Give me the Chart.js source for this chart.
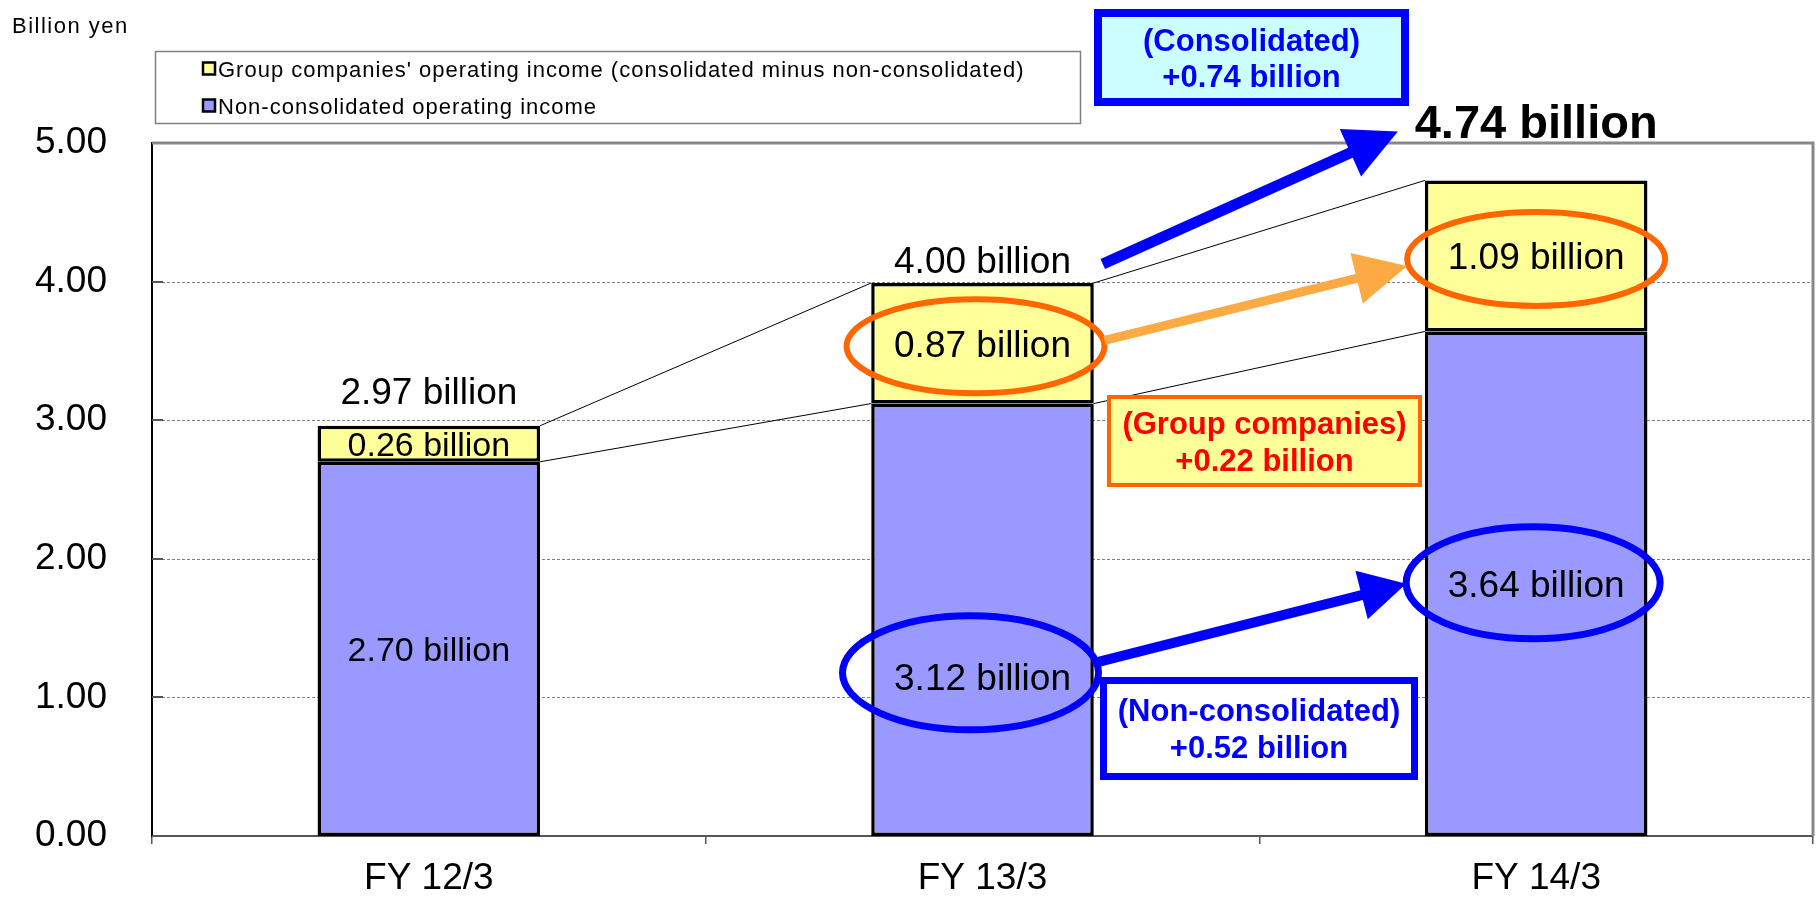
<!DOCTYPE html>
<html>
<head>
<meta charset="utf-8">
<title>Operating income</title>
<script src="https://cdn.jsdelivr.net/npm/chart.js@4.4.1/dist/chart.umd.min.js"></script>
<style>
  body { margin: 0; background: #fff; }
  canvas { display: block; }
</style>
</head>
<body>
<canvas id="chart" width="1820" height="906"></canvas>
<script>
// --- data ---
const years = ['FY 12/3', 'FY 13/3', 'FY 14/3'];
const nonConsolidated = [2.70, 3.12, 3.64];
const groupCompanies = [0.26, 0.87, 1.09];
const totals = [2.97, 4.00, 4.74];
const seriesNames = [
  'Non-consolidated operating income',
  "Group companies' operating income (consolidated minus non-consolidated)"
];
const yTicks = [0, 1, 2, 3, 4, 5];
const unitLabel = 'Billion yen';

const FONT = "'Liberation Sans', Arial, sans-serif";
const BLUE = '#9999ff';
const YELLOW = '#ffff99';

const fmt = v => v.toFixed(2) + ' billion';
const diff = (a, b) => '+' + (b - a).toFixed(2) + ' billion';

function text(ctx, str, x, base, size, o = {}) {
  ctx.font = (o.bold ? 'bold ' : '') + size + 'px ' + FONT;
  ctx.fillStyle = o.color || '#000';
  ctx.textAlign = o.align || 'center';
  ctx.textBaseline = 'alphabetic';
  ctx.letterSpacing = o.spacing || '0px';
  ctx.fillText(str, x, base);
  ctx.letterSpacing = '0px';
}

function line(ctx, x1, y1, x2, y2) {
  ctx.beginPath();
  ctx.moveTo(x1, y1);
  ctx.lineTo(x2, y2);
  ctx.stroke();
}

function arrow(ctx, x1, y1, x2, y2, shaft, headLen, headHalf, color) {
  const len = Math.hypot(x2 - x1, y2 - y1);
  ctx.save();
  ctx.translate(x1, y1);
  ctx.rotate(Math.atan2(y2 - y1, x2 - x1));
  ctx.fillStyle = color;
  ctx.beginPath();
  ctx.moveTo(0, -shaft / 2);
  ctx.lineTo(len - headLen, -shaft / 2);
  ctx.lineTo(len - headLen, -headHalf);
  ctx.lineTo(len, 0);
  ctx.lineTo(len - headLen, headHalf);
  ctx.lineTo(len - headLen, shaft / 2);
  ctx.lineTo(0, shaft / 2);
  ctx.closePath();
  ctx.fill();
  ctx.restore();
}

function box(ctx, b) {
  ctx.save();
  ctx.fillStyle = b.fill;
  ctx.fillRect(b.x, b.y, b.w, b.h);
  ctx.strokeStyle = b.stroke;
  ctx.lineWidth = b.lw;
  ctx.strokeRect(b.x, b.y, b.w, b.h);
  const cy = b.y + b.h / 2;
  b.lines.forEach((s, i) => {
    const c = cy + (i - (b.lines.length - 1) / 2) * b.lead;
    text(ctx, s, b.x + b.w / 2, c + 11, 31, { bold: true, color: b.color });
  });
  ctx.restore();
}

const decor = {
  id: 'decor',
  beforeDraw(chart) {
    const { ctx, width, height } = chart;
    ctx.save();
    ctx.fillStyle = '#fff';
    ctx.fillRect(0, 0, width, height);
    ctx.restore();
  },
  beforeDatasetsDraw(chart) {
    const { ctx, chartArea: a, scales: { y } } = chart;
    ctx.save();
    // dotted grid
    ctx.strokeStyle = '#808080';
    ctx.lineWidth = 1;
    ctx.setLineDash([3, 2]);
    yTicks.forEach(v => {
      if (v <= y.min || v >= y.max) return;
      const py = Math.round(y.getPixelForValue(v)) + 0.5;
      line(ctx, a.left, py, a.right, py);
    });
    ctx.setLineDash([]);
    // inside tick marks
    ctx.strokeStyle = '#555';
    ctx.lineWidth = 2;
    yTicks.forEach(v => {
      const py = Math.round(y.getPixelForValue(v));
      line(ctx, a.left, py, a.left + 11, py);
    });
    // plot frame top / right
    ctx.strokeStyle = '#888';
    ctx.lineWidth = 3;
    ctx.beginPath();
    ctx.moveTo(a.left, a.top);
    ctx.lineTo(a.right, a.top);
    ctx.lineTo(a.right, a.bottom);
    ctx.stroke();
    ctx.restore();
  },
  afterDatasetsDraw(chart) {
    const { ctx } = chart;
    const low = chart.getDatasetMeta(0).data;
    const high = chart.getDatasetMeta(1).data;
    const mid = el => (el.y + el.base) / 2;
    ctx.save();

    // series lines between bars
    ctx.strokeStyle = '#000';
    ctx.lineWidth = 1;
    for (let i = 0; i < low.length - 1; i++) {
      const r = low[i].x + low[i].width / 2;
      const l = low[i + 1].x - low[i + 1].width / 2;
      line(ctx, r, high[i].y, l, high[i + 1].y);
      line(ctx, r, low[i].y, l, low[i + 1].y);
    }

    // segment labels
    const segSize = [34, 37, 37];
    const lowShift = [0, 57, 0];
    const centers = [[], []];
    low.forEach((el, i) => {
      const c = mid(el) + lowShift[i];
      centers[0][i] = { x: el.x, y: c };
      text(ctx, fmt(nonConsolidated[i]), el.x, c + segSize[i] * 0.36, segSize[i]);
    });
    high.forEach((el, i) => {
      const c = mid(el);
      centers[1][i] = { x: el.x, y: c };
      text(ctx, fmt(groupCompanies[i]), el.x, c + segSize[i] * 0.36, segSize[i]);
    });

    // totals above bars
    const gap = [22, 10, 42];
    high.forEach((el, i) => {
      const last = i === high.length - 1;
      text(ctx, fmt(totals[i]), el.x, el.y - gap[i], last ? 47 : 37, { bold: last });
    });

    // rings
    const rings = [
      { s: 1, i: 1, color: '#ff6600', lw: 6, rx: 129, ry: 47, dx: -7, dy: 3 },
      { s: 1, i: 2, color: '#ff6600', lw: 6, rx: 129, ry: 47, dx: 0, dy: 3 },
      { s: 0, i: 1, color: '#0000ff', lw: 7, rx: 128, ry: 57, dx: -12, dy: -4 },
      { s: 0, i: 2, color: '#0000ff', lw: 7, rx: 127, ry: 56, dx: -3, dy: -1 }
    ];
    const pos = rings.map(r => {
      const c = centers[r.s][r.i];
      const p = { x: c.x + r.dx, y: c.y + r.dy, rx: r.rx };
      ctx.strokeStyle = r.color;
      ctx.lineWidth = r.lw;
      ctx.beginPath();
      ctx.ellipse(p.x, p.y, r.rx, r.ry, 0, 0, Math.PI * 2);
      ctx.stroke();
      return p;
    });

    // arrows
    arrow(ctx, pos[0].x + pos[0].rx, pos[0].y - 6, pos[1].x - pos[1].rx, pos[1].y + 7, 9, 52, 26, '#fbaa44');
    arrow(ctx, pos[2].x + pos[2].rx, pos[2].y - 11, pos[3].x - pos[3].rx, pos[3].y + 1, 10, 46, 25, '#0000ff');
    const b1 = high[1], b2 = high[2];
    arrow(ctx, b1.x + b1.width / 2 + 9, b1.y - 19, b2.x - b2.width / 2 - 27, b2.y - 49, 11, 52, 26, '#0000ff');

    // callout boxes
    box(ctx, { x: 1098, y: 13, w: 307, h: 89, lw: 8, fill: '#ccffff', stroke: '#0000ff', color: '#0000ff', lead: 36,
      lines: ['(Consolidated)', diff(totals[1], totals[2])] });
    box(ctx, { x: 1109, y: 397, w: 311, h: 88, lw: 4, fill: YELLOW, stroke: '#ff6600', color: '#ff0000', lead: 37,
      lines: ['(Group companies)', diff(groupCompanies[1], groupCompanies[2])] });
    box(ctx, { x: 1103.5, y: 680.5, w: 311, h: 96, lw: 7, fill: '#fff', stroke: '#0000ff', color: '#0000ff', lead: 37,
      lines: ['(Non-consolidated)', diff(nonConsolidated[1], nonConsolidated[2])] });

    // unit label
    text(ctx, unitLabel, 12, 33, 22, { align: 'left', spacing: '1.5px' });

    // legend
    ctx.strokeStyle = '#808080';
    ctx.lineWidth = 1.5;
    ctx.strokeRect(155.5, 51.5, 925, 72);
    const ds = chart.data.datasets.slice().reverse();
    ds.forEach((d, k) => {
      const cy = 68.5 + k * 37;
      ctx.fillStyle = d.backgroundColor;
      ctx.fillRect(203, cy - 6, 12, 12);
      ctx.strokeStyle = '#000';
      ctx.lineWidth = 2.5;
      ctx.strokeRect(203, cy - 6, 12, 12);
      text(ctx, d.label, 218, cy + 8, 22, { align: 'left', spacing: '1px' });
    });
    ctx.restore();
  }
};

new Chart(document.getElementById('chart'), {
  type: 'bar',
  data: {
    labels: years,
    datasets: [
      { label: seriesNames[0], data: nonConsolidated, backgroundColor: BLUE },
      { label: seriesNames[1], data: groupCompanies, backgroundColor: YELLOW }
    ]
  },
  options: {
    responsive: false,
    animation: false,
    devicePixelRatio: 1,
    layout: { padding: { top: 143, right: 7, bottom: 0, left: 0 } },
    datasets: {
      bar: {
        borderColor: '#000',
        borderWidth: 3.5,
        borderSkipped: false,
        barPercentage: 0.402,
        categoryPercentage: 1
      }
    },
    plugins: {
      legend: { display: false },
      tooltip: { enabled: false }
    },
    scales: {
      x: {
        stacked: true,
        afterFit: s => { s.height = 70; },
        grid: { display: true, drawOnChartArea: false, drawTicks: true, tickLength: 8, color: '#555', lineWidth: 1.5, offset: true },
        border: { display: true, color: '#555', width: 2 },
        ticks: { padding: 13, color: '#000', font: { family: FONT, size: 37 } }
      },
      y: {
        stacked: true,
        min: 0,
        max: 5,
        afterBuildTicks: s => { s.ticks = yTicks.map(v => ({ value: v })); },
        afterFit: s => { s.width = 152; },
        grid: { display: false, drawTicks: false },
        border: { display: true, color: '#000', width: 2 },
        ticks: {
          padding: 45,
          color: '#000',
          font: { family: FONT, size: 37 },
          callback: v => Number(v).toFixed(2)
        }
      }
    }
  },
  plugins: [decor]
});
</script>
</body>
</html>
